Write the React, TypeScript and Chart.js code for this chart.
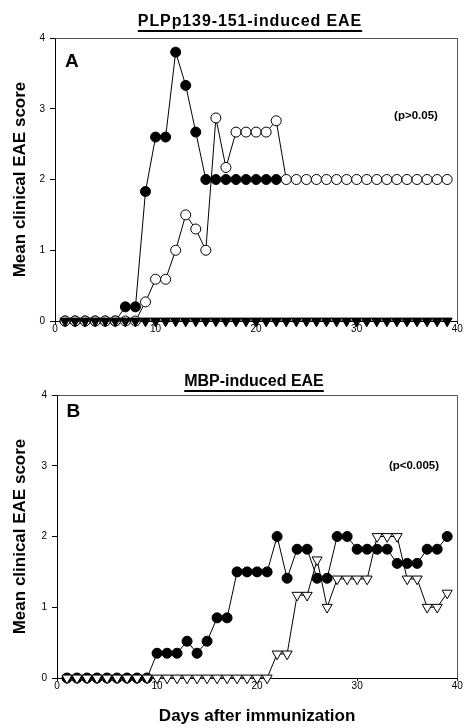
import React, { useEffect, useRef } from "react";
import { Chart, registerables } from "chart.js";

Chart.register(...registerables);

const FONT = '"Liberation Sans", Arial, Helvetica, sans-serif';

// ---------- data ----------
const days = [1, 2, 3, 4, 5, 6, 7, 8, 9, 10, 11, 12, 13, 14, 15, 16, 17, 18, 19, 20,
  21, 22, 23, 24, 25, 26, 27, 28, 29, 30, 31, 32, 33, 34, 35, 36, 37, 38, 39];
const xTicks = [0, 10, 20, 30, 40];
const yTicks = [0, 1, 2, 3, 4];

// Panel A: PLPp139-151-induced EAE
const plpFilledCircles = [0, 0, 0, 0, 0, 0, 0.2, 0.2, 1.83, 2.6, 2.6, 3.8, 3.33, 2.67, 2, 2, 2, 2, 2, 2, 2, 2];
const plpOpenCircles = [0, 0, 0, 0, 0, 0, 0, 0, 0.27, 0.59, 0.59, 1.0, 1.5, 1.3, 1.0, 2.87, 2.17, 2.67, 2.67, 2.67,
  2.67, 2.83, 2, 2, 2, 2, 2, 2, 2, 2, 2, 2, 2, 2, 2, 2, 2, 2, 2];
const plpFilledTriangles = [0, 0, 0, 0, 0, 0, 0, 0, 0, 0, 0, 0, 0, 0, 0, 0, 0, 0, 0, 0,
  0, 0, 0, 0, 0, 0, 0, 0, 0, 0, 0, 0, 0, 0, 0, 0, 0, 0, 0];

// Panel B: MBP-induced EAE
const mbpFilledCircles = [0, 0, 0, 0, 0, 0, 0, 0, 0, 0.35, 0.35, 0.35, 0.52, 0.35, 0.52, 0.85, 0.85, 1.5, 1.5, 1.5,
  1.5, 2.0, 1.41, 1.82, 1.82, 1.41, 1.41, 2.0, 2.0, 1.82, 1.82, 1.82, 1.82, 1.62, 1.62, 1.62, 1.82, 1.82, 2.0];
const mbpOpenTriangles = [0, 0, 0, 0, 0, 0, 0, 0, 0, 0, 0, 0, 0, 0, 0, 0, 0, 0, 0, 0,
  0, 0.34, 0.34, 1.17, 1.17, 1.67, 1.0, 1.4, 1.4, 1.4, 1.4, 2.0, 2.0, 2.0, 1.4, 1.4, 1.0, 1.0, 1.2];

const toPoints = (vals: number[]) => vals.map((v, i) => ({ x: days[i], y: v }));

const framePlugin = {
  id: "frame",
  beforeDatasetsDraw(chart: any) {
    const { ctx, chartArea } = chart;
    const { left, right, top, bottom } = chartArea;
    ctx.save();
    ctx.strokeStyle = "#555";
    ctx.lineWidth = 1;
    ctx.beginPath();
    ctx.moveTo(Math.round(left) + 0.5, Math.round(top) + 0.5);
    ctx.lineTo(Math.round(right) + 0.5, Math.round(top) + 0.5);
    ctx.lineTo(Math.round(right) + 0.5, Math.round(bottom) + 0.5);
    ctx.stroke();
    ctx.restore();
  },
};

function series(vals: number[], style: "circle" | "triangle", filled: boolean, order: number) {
  return {
    data: toPoints(vals),
    borderColor: "#000",
    borderWidth: 1,
    tension: 0,
    pointStyle: style,
    pointRotation: style === "triangle" ? 180 : 0,
    pointRadius: style === "triangle" ? 5.8 : 5,
    pointBackgroundColor: filled ? "#000" : "#fff",
    pointBorderColor: "#000",
    pointBorderWidth: 1,
    clip: false,
    order,
  };
}

interface PanelProps {
  top: number;
  height: number;
  padTop: number;
  padRight: number;
  yWidth: number;
  xHeight: number;
  datasets: any[];
  xTitle?: string;
}

function Panel(p: PanelProps) {
  const ref = useRef<HTMLCanvasElement | null>(null);
  useEffect(() => {
    if (!ref.current) return;
    const chart = new Chart(ref.current, {
      type: "line",
      data: { datasets: p.datasets },
      plugins: [framePlugin],
      options: {
        responsive: false,
        animation: false,
        devicePixelRatio: 1,
        layout: { padding: { top: p.padTop, right: p.padRight, left: 0, bottom: 0 } },
        plugins: { legend: { display: false }, tooltip: { enabled: false }, title: { display: false } },
        scales: {
          x: {
            type: "linear",
            min: xTicks[0],
            max: xTicks[xTicks.length - 1],
            afterBuildTicks: (s: any) => { s.ticks = xTicks.map((v) => ({ value: v })); },
            ticks: { font: { family: FONT, size: 10 }, color: "#000", padding: -1, maxRotation: 0, autoSkip: false },
            grid: { drawOnChartArea: false, drawTicks: true, tickLength: 3, color: "#000" },
            border: { color: "#000", width: 1 },
            afterFit: (s: any) => { s.height = p.xHeight; },
            title: p.xTitle
              ? { display: true, text: p.xTitle, color: "#000", font: { family: FONT, size: 17, weight: "bold" }, padding: { top: 0, bottom: 1 } }
              : { display: false },
          },
          y: {
            type: "linear",
            min: yTicks[0],
            max: yTicks[yTicks.length - 1],
            afterBuildTicks: (s: any) => { s.ticks = yTicks.map((v) => ({ value: v })); },
            ticks: { font: { family: FONT, size: 10 }, color: "#000", padding: 5 },
            grid: { drawOnChartArea: false, drawTicks: true, tickLength: 5, color: "#000" },
            border: { color: "#000", width: 1 },
            afterFit: (s: any) => { s.width = p.yWidth; },
            title: { display: true, text: "Mean clinical EAE score", color: "#000", font: { family: FONT, size: 17, weight: "bold" }, padding: { top: 10, bottom: 0 } },
          },
        },
      } as any,
    });
    return () => chart.destroy();
  }, []);
  return (
    <canvas
      ref={ref}
      width={464}
      height={p.height}
      style={{ position: "absolute", left: 0, top: p.top, width: 464, height: p.height, display: "block" }}
    />
  );
}

const textBase: React.CSSProperties = {
  position: "absolute",
  fontFamily: FONT,
  fontWeight: "bold",
  color: "#000",
  whiteSpace: "nowrap",
};

export default function App() {
  const dsA = [
    series(plpFilledCircles, "circle", true, 3),
    series(plpOpenCircles, "circle", false, 2),
    series(plpFilledTriangles, "triangle", true, 1),
  ];
  const dsB = [
    series(mbpFilledCircles, "circle", true, 2),
    series(mbpOpenTriangles, "triangle", false, 1),
  ];
  return (
    <div style={{ position: "absolute", left: 0, top: 0, width: 464, height: 728, background: "#fff", overflow: "hidden" }}>
      <Panel top={0} height={345} padTop={38} padRight={6} yWidth={55} xHeight={24} datasets={dsA} />
      <Panel top={355} height={373} padTop={40} padRight={4} yWidth={57} xHeight={50} datasets={dsB} xTitle="Days after immunization" />

      <div style={{ ...textBase, left: 100, width: 300, top: 13, textAlign: "center", fontSize: 16, lineHeight: "16px", letterSpacing: "0.9px", textDecoration: "underline", textUnderlineOffset: "4px", textDecorationThickness: "1.5px" }}>
        PLPp139-151-induced EAE
      </div>
      <div style={{ ...textBase, left: 104, width: 300, top: 372.5, textAlign: "center", fontSize: 16, lineHeight: "16px", textDecoration: "underline", textUnderlineOffset: "4px", textDecorationThickness: "1.5px" }}>
        MBP-induced EAE
      </div>
      <div style={{ ...textBase, left: 65, top: 51, fontSize: 19, lineHeight: "19px" }}>A</div>
      <div style={{ ...textBase, left: 66.5, top: 401, fontSize: 19, lineHeight: "19px" }}>B</div>
      <div style={{ ...textBase, left: 366, width: 100, top: 110, textAlign: "center", fontSize: 11.5, lineHeight: "11.5px" }}>(p&gt;0.05)</div>
      <div style={{ ...textBase, left: 364, width: 100, top: 460, textAlign: "center", fontSize: 11.5, lineHeight: "11.5px" }}>(p&lt;0.005)</div>
    </div>
  );
}
